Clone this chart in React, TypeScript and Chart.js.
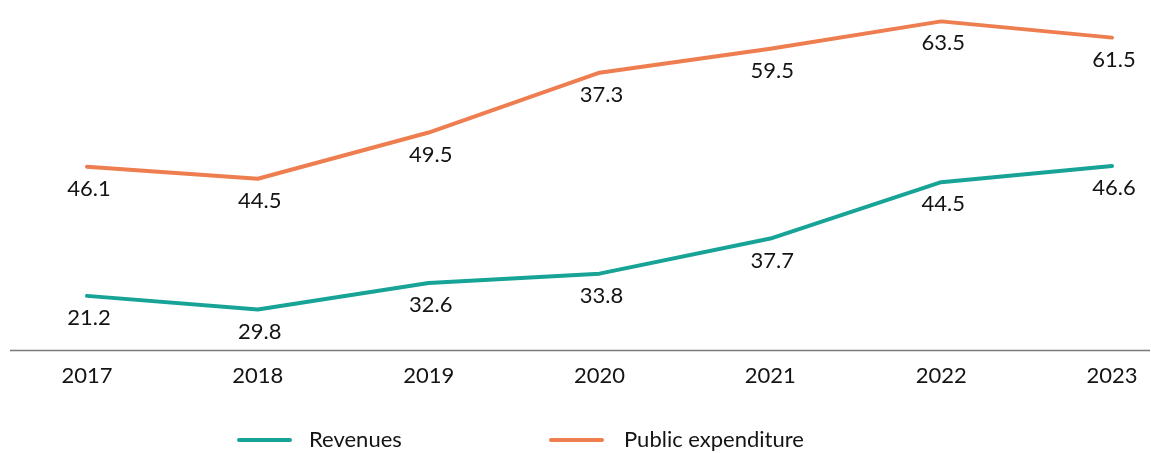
import React, { useEffect, useRef } from "react";
import { Chart, registerables } from "chart.js";

Chart.register(...registerables);

const years = ["2017", "2018", "2019", "2020", "2021", "2022", "2023"];
// positions of the marks as drawn
const revenues = [31.4, 29.8, 32.9, 34.0, 38.1, 44.7, 46.6];
const expenditure = [46.5, 45.1, 50.5, 57.5, 60.3, 63.5, 61.6];
// value labels as printed on the chart
const revenueLabels = ["21.2", "29.8", "32.6", "33.8", "37.7", "44.5", "46.6"];
const expenditureLabels = ["46.1", "44.5", "49.5", "37.3", "59.5", "63.5", "61.5"];
const seriesNames = ["Revenues", "Public expenditure"];

const TEAL = "#17a497";
const ORANGE = "#ee7d4f";
const FONT = "Lato, 'Open Sans', sans-serif";

const labelsPlugin = {
  id: "valueLabels",
  afterDatasetsDraw(chart: any) {
    const ctx = chart.ctx;
    const all = [revenueLabels, expenditureLabels];
    ctx.save();
    ctx.font = `22px ${FONT}`;
    ctx.fillStyle = "#141414";
    ctx.textAlign = "center";
    ctx.textBaseline = "middle";
    chart.data.datasets.forEach((_: any, di: number) => {
      const meta = chart.getDatasetMeta(di);
      meta.data.forEach((pt: any, i: number) => {
        ctx.fillText(all[di][i], pt.x + 2, pt.y + 22);
      });
    });
    ctx.restore();
  },
};

const baselinePlugin = {
  id: "baseline",
  afterDraw(chart: any) {
    const ctx = chart.ctx;
    const y = chart.chartArea.bottom;
    ctx.save();
    ctx.strokeStyle = "#7a7a7a";
    ctx.lineWidth = 1.5;
    ctx.beginPath();
    ctx.moveTo(10, y);
    ctx.lineTo(1150, y);
    ctx.stroke();
    ctx.restore();
  },
};

const legendPlugin = {
  id: "customLegend",
  afterDraw(chart: any) {
    const ctx = chart.ctx;
    const items = [
      { x: 237, tx: 309, color: TEAL, text: seriesNames[0] },
      { x: 549, tx: 624, color: ORANGE, text: seriesNames[1] },
    ];
    const y = 440;
    ctx.save();
    ctx.font = `22px ${FONT}`;
    ctx.textBaseline = "middle";
    ctx.textAlign = "left";
    items.forEach((it) => {
      ctx.strokeStyle = it.color;
      ctx.lineWidth = 4;
      ctx.lineCap = "round";
      ctx.beginPath();
      ctx.moveTo(it.x + 2, y);
      ctx.lineTo(it.x + 53, y);
      ctx.stroke();
      ctx.fillStyle = "#141414";
      ctx.fillText(it.text, it.tx, y);
    });
    ctx.restore();
  },
};

export default function App() {
  const ref = useRef<HTMLCanvasElement>(null);
  useEffect(() => {
    document.body.style.margin = "0";
    const chart = new Chart(ref.current!, {
      type: "line",
      data: {
        labels: years,
        datasets: [
          {
            label: seriesNames[0],
            data: revenues,
            borderColor: TEAL,
            backgroundColor: TEAL,
            borderWidth: 4,
            pointRadius: 0,
            tension: 0,
            borderCapStyle: "round",
            borderJoinStyle: "round",
          },
          {
            label: seriesNames[1],
            data: expenditure,
            borderColor: ORANGE,
            backgroundColor: ORANGE,
            borderWidth: 4,
            pointRadius: 0,
            tension: 0,
            borderCapStyle: "round",
            borderJoinStyle: "round",
          },
        ],
      },
      options: {
        animation: false,
        responsive: false,
        maintainAspectRatio: false,
        layout: { padding: { left: 87, right: 39, top: 0, bottom: 52 } },
        plugins: { legend: { display: false }, tooltip: { enabled: false } },
        scales: {
          x: {
            offset: false,
            grid: { display: false, drawTicks: false },
            border: { display: false },
            ticks: {
              color: "#141414",
              font: { family: FONT, size: 22 },
              padding: 12,
              maxRotation: 0,
              autoSkip: false,
            },
          },
          y: {
            display: false,
            min: 25,
            max: 66,
          },
        },
      },
      plugins: [labelsPlugin, baselinePlugin, legendPlugin],
    });
    return () => chart.destroy();
  }, []);
  return <canvas ref={ref} width={1151} height={453} style={{ display: "block" }} />;
}
